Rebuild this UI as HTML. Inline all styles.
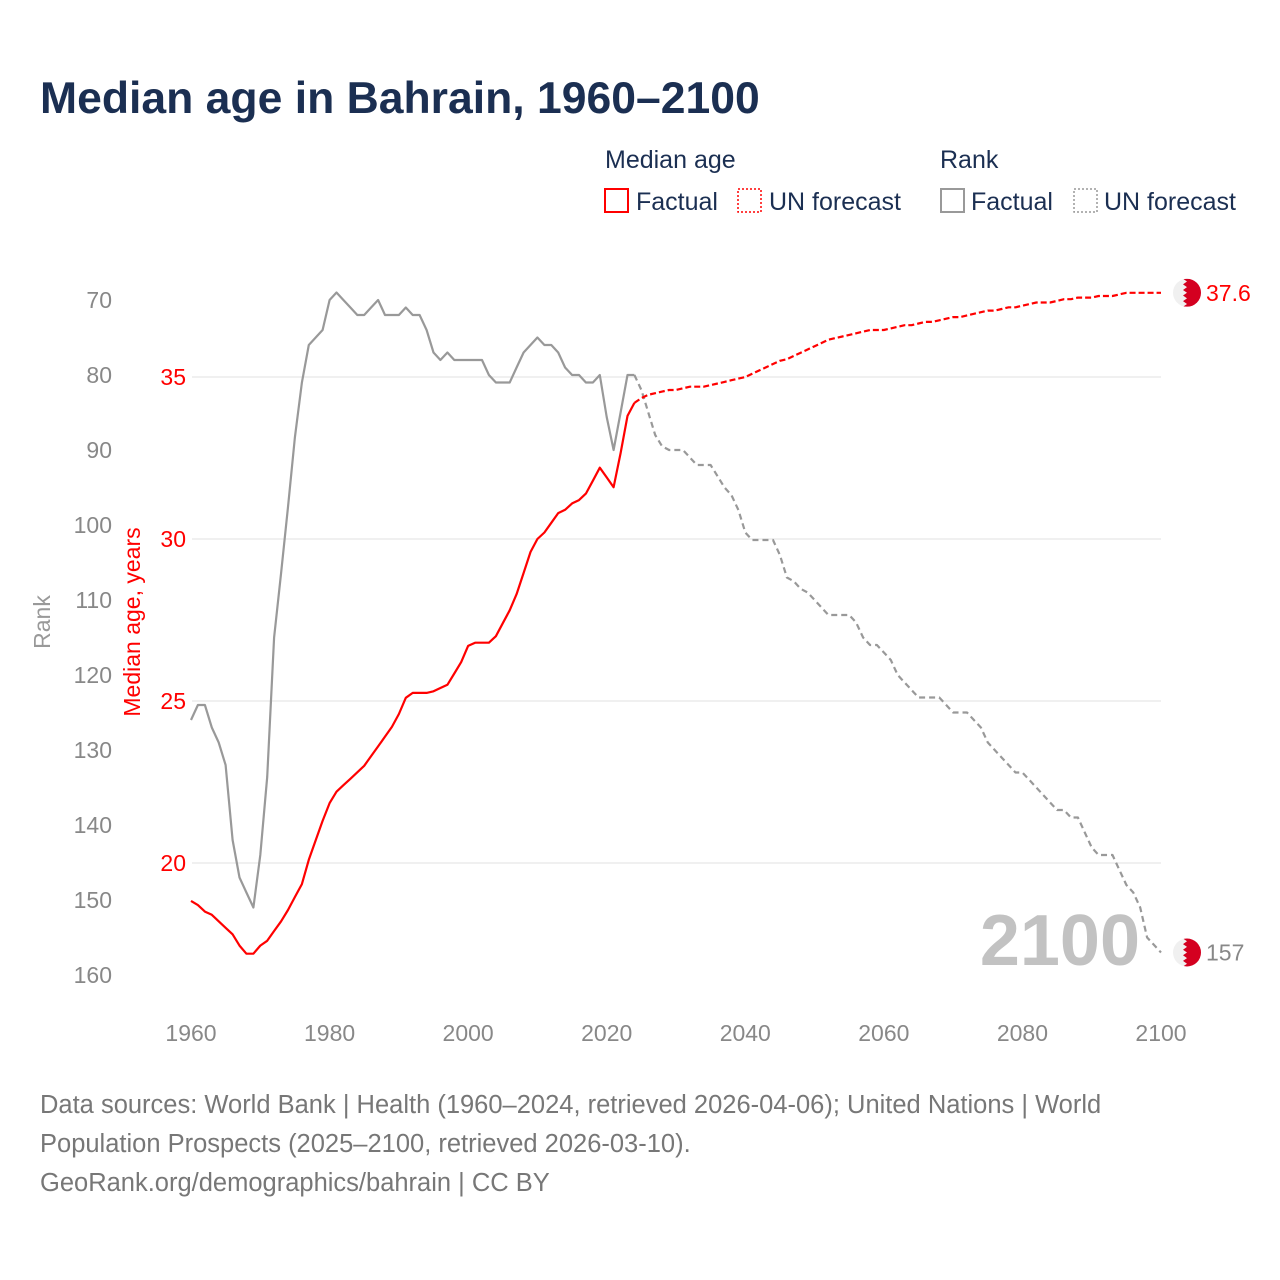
<!DOCTYPE html>
<html><head><meta charset="utf-8">
<style>
body{margin:0;background:#fff;font-family:"Liberation Sans",sans-serif;}
#wrap{position:relative;width:1280px;height:1280px;overflow:hidden;}
</style></head>
<body><div id="wrap">
<svg id="chart" width="1280" height="1280" xmlns="http://www.w3.org/2000/svg">
<text x="40" y="113" font-size="44.5" font-weight="bold" fill="#1b2f52">Median age in Bahrain, 1960–2100</text>
<g font-size="25" fill="#1b2f52">
<text x="605" y="168">Median age</text>
<text x="940" y="168">Rank</text>
<rect x="605" y="189" width="23" height="23" fill="none" stroke="#f00" stroke-width="2"/>
<text x="636" y="210">Factual</text>
<rect x="738" y="189" width="23" height="23" fill="none" stroke="#f00" stroke-width="1.5" stroke-dasharray="2,2"/>
<text x="769" y="210">UN forecast</text>
<rect x="941" y="189" width="23" height="23" fill="none" stroke="#999" stroke-width="2"/>
<text x="971" y="210">Factual</text>
<rect x="1074" y="189" width="23" height="23" fill="none" stroke="#999" stroke-width="1.5" stroke-dasharray="2,2"/>
<text x="1104" y="210">UN forecast</text>
</g>
<text transform="translate(50,622) rotate(-90)" text-anchor="middle" font-size="23" fill="#999">Rank</text>
<text transform="translate(140,622) rotate(-90)" text-anchor="middle" font-size="23" fill="#f00">Median age, years</text>
<text x="1140" y="965" text-anchor="end" font-size="72" font-weight="bold" fill="#c2c2c2">2100</text>
<g id="plot"></g>
<g font-size="25.5" fill="#777">
<text x="40" y="1113">Data sources: World Bank | Health (1960–2024, retrieved 2026-04-06); United Nations | World</text>
<text x="40" y="1152">Population Prospects (2025–2100, retrieved 2026-03-10).</text>
<text x="40" y="1191">GeoRank.org/demographics/bahrain | CC BY</text>
</g>
</svg>
</div>
<script>
const xTicks=[1960,1980,2000,2020,2040,2060,2080,2100];
const ageTicks=[20,25,30,35];
const rankTicks=[70,80,90,100,110,120,130,140,150,160];
const factYears=[];for(let y=1960;y<=2024;y++)factYears.push(y);
const foreYears=[];for(let y=2024;y<=2100;y++)foreYears.push(y);
const ageFactual=[18.83,18.7,18.5,18.4,18.2,18.0,17.8,17.45,17.2,17.2,17.45,17.6,17.9,18.2,18.55,18.95,19.35,20.1,20.7,21.3,21.85,22.2,22.4,22.6,22.8,23.0,23.3,23.6,23.9,24.2,24.6,25.1,25.25,25.25,25.25,25.3,25.4,25.5,25.85,26.2,26.7,26.8,26.8,26.8,27.0,27.4,27.8,28.3,28.95,29.6,30.0,30.2,30.5,30.8,30.9,31.1,31.2,31.4,31.8,32.2,31.9,31.6,32.65,33.8,34.2];
const ageForecast=[34.2,34.35,34.45,34.5,34.55,34.6,34.6,34.65,34.7,34.7,34.7,34.75,34.8,34.85,34.9,34.95,35.0,35.1,35.2,35.3,35.4,35.5,35.55,35.65,35.75,35.85,35.95,36.05,36.15,36.2,36.25,36.3,36.35,36.4,36.45,36.45,36.45,36.5,36.55,36.6,36.6,36.65,36.7,36.7,36.75,36.8,36.85,36.85,36.9,36.95,37.0,37.05,37.05,37.1,37.15,37.15,37.2,37.25,37.3,37.3,37.3,37.35,37.4,37.4,37.45,37.45,37.45,37.5,37.5,37.5,37.55,37.6,37.6,37.6,37.6,37.6,37.6];
const rankFactual=[126,124,124,127,129,132,142,147,149,151,144,133.6,115,106.4,97.6,88.3,81,76,75,74,70,69,70,71,72,72,71,70,72,72,72,71,72,72,74,77,78,77,78,78,78,78,78,80,81,81,81,79,77,76,75,76,76,77,79,80,80,81,81,80,85.6,90,85,80,80];
const rankForecast=[80,82,85,88,89.5,90,90,90,91,92,92,92,93.5,95,96,98,101,102,102,102,102,104,107,107.5,108.5,109,110,111,112,112,112,112,113,115,116,116,117,118,120,121,122,123,123,123,123,124,125,125,125,126,127,129,130,131,132,133,133,134,135,136,137,138,138,139,139,141,143,144,144,144,146,148,149,151,155,156,157];

const NS="http://www.w3.org/2000/svg";
const plot=document.getElementById('plot');
const X=y=>191+(y-1960)*(970/140);
const YA=v=>377-(v-35)*32.4;
const YR=r=>300+(r-70)*7.5;
function mk(tag,attrs){const e=document.createElementNS(NS,tag);for(const k in attrs)e.setAttribute(k,attrs[k]);plot.appendChild(e);return e;}

ageTicks.forEach(v=>{
  const g=mk('line',{x1:192,x2:1161,y1:YA(v),y2:YA(v),stroke:'#e6e6e6','stroke-width':1.2});
  
  
  const t=mk('text',{x:186,y:YA(v)+8,'text-anchor':'end','font-size':23,fill:'#f00'});t.textContent=v;
  
  
});
rankTicks.forEach(v=>{
  const t=mk('text',{x:112,y:YR(v)+8,'text-anchor':'end','font-size':23,fill:'#888'});t.textContent=v;
  
  
});
xTicks.forEach(v=>{
  const t=mk('text',{x:X(v),y:1041,'text-anchor':'middle','font-size':23,fill:'#888'});t.textContent=v;
  
  
});
function line(years,vals,fy,color,dash,name){
  const d=vals.map((v,i)=>(i?'L':'M')+X(years[i]).toFixed(1)+','+fy(v).toFixed(1)).join('');
  const p=mk('path',{d:d,fill:'none',stroke:color,'stroke-width':2.2,'stroke-linejoin':'round'});
  if(dash)p.setAttribute('stroke-dasharray',dash);
  
  
}
line(factYears,rankFactual,YR,'#999',null,'rank-factual-line');
line(foreYears,rankForecast,YR,'#999','6,4','rank-forecast-line');
line(factYears,ageFactual,YA,'#f00',null,'median-age-factual-line');
line(foreYears,ageForecast,YA,'#f00','6,3','median-age-forecast-line');

function flag(cx,cy,name){
  const g=document.createElementNS(NS,'g');plot.appendChild(g);
  
  
  const c=document.createElementNS(NS,'circle');c.setAttribute('cx',cx);c.setAttribute('cy',cy);c.setAttribute('r',14);c.setAttribute('fill','#f0f0f0');g.appendChild(c);
  let pts=[];const r=14;const x0=cx-4;
  pts.push((x0)+','+(cy-r));
  for(let i=0;i<5;i++){const y1=cy-r+i*5.6;pts.push((x0+4)+','+(y1+2.8));pts.push(x0+','+(y1+5.6));}
  pts.push((cx+r)+','+(cy+r));pts.push((cx+r)+','+(cy-r));
  const cp=document.createElementNS(NS,'clipPath');cp.setAttribute('id','cl'+name);const cc=c.cloneNode();cp.appendChild(cc);g.appendChild(cp);
  const pg=document.createElementNS(NS,'polygon');pg.setAttribute('points',pts.join(' '));pg.setAttribute('fill','#d40020');pg.setAttribute('clip-path','url(#cl'+name+')');g.appendChild(pg);
}
const lastAge=ageForecast[ageForecast.length-1];
const lastRank=rankForecast[rankForecast.length-1];
flag(1187,YA(lastAge),'flag-marker-median-age');
flag(1187,YR(lastRank),'flag-marker-rank');
const la=mk('text',{x:1206,y:YA(lastAge)+8,'font-size':23,fill:'#f00'});la.textContent=lastAge.toFixed(1);


const lr=mk('text',{x:1206,y:YR(lastRank)+8,'font-size':23,fill:'#888'});lr.textContent=lastRank;


</script>
</body></html>
